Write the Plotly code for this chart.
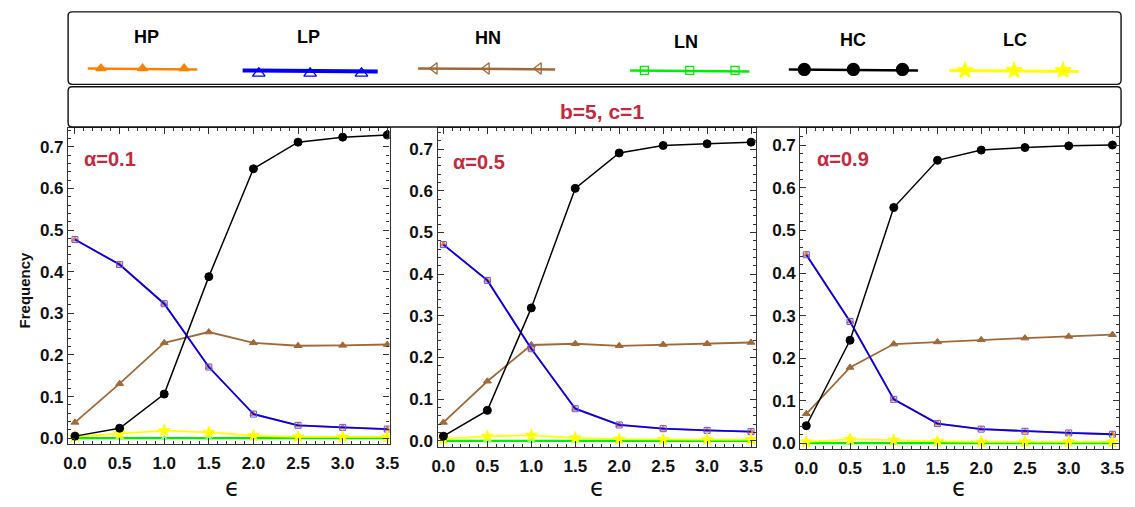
import plotly.graph_objects as go

# ---------------------------------------------------------------- data
EPS = [0.0, 0.5, 1.0, 1.5, 2.0, 2.5, 3.0, 3.5]
SERIES = ["HP", "LP", "HN", "LN", "HC", "LC"]
PANEL_LABELS = ["α=0.1", "α=0.5", "α=0.9"]
SUBTITLE = "b=5, c=1"
X_TICKS = [0.0, 0.5, 1.0, 1.5, 2.0, 2.5, 3.0, 3.5]
Y_TICKS = [0.0, 0.1, 0.2, 0.3, 0.4, 0.5, 0.6, 0.7]

# alpha = 0.1
HP_A1 = [0.477, 0.417, 0.323, 0.171, 0.058, 0.031, 0.026, 0.022]
LP_A1 = [0.477, 0.417, 0.323, 0.171, 0.058, 0.031, 0.026, 0.022]
HN_A1 = [0.038, 0.131, 0.229, 0.255, 0.229, 0.222, 0.223, 0.225]
LN_A1 = [0.0, 0.0, 0.0, 0.0, 0.0, 0.0, 0.0, 0.0]
HC_A1 = [0.005, 0.024, 0.106, 0.388, 0.647, 0.711, 0.723, 0.728]
LC_A1 = [0.004, 0.011, 0.018, 0.014, 0.006, 0.003, 0.003, 0.003]

# alpha = 0.5
HP_A5 = [0.471, 0.385, 0.221, 0.077, 0.038, 0.029, 0.025, 0.022]
LP_A5 = [0.471, 0.385, 0.221, 0.077, 0.038, 0.029, 0.025, 0.022]
HN_A5 = [0.044, 0.143, 0.230, 0.233, 0.228, 0.231, 0.233, 0.236]
LN_A5 = [0.0, 0.0, 0.0, 0.0, 0.0, 0.0, 0.0, 0.0]
HC_A5 = [0.011, 0.073, 0.319, 0.606, 0.691, 0.709, 0.713, 0.717]
LC_A5 = [0.004, 0.011, 0.013, 0.007, 0.004, 0.003, 0.003, 0.003]

# alpha = 0.9
HP_A9 = [0.443, 0.286, 0.103, 0.046, 0.033, 0.028, 0.024, 0.021]
LP_A9 = [0.443, 0.286, 0.103, 0.046, 0.033, 0.028, 0.024, 0.021]
HN_A9 = [0.069, 0.178, 0.233, 0.238, 0.243, 0.247, 0.251, 0.255]
LN_A9 = [0.0, 0.0, 0.0, 0.0, 0.0, 0.0, 0.0, 0.0]
HC_A9 = [0.041, 0.242, 0.554, 0.665, 0.689, 0.695, 0.699, 0.701]
LC_A9 = [0.003, 0.009, 0.007, 0.004, 0.003, 0.003, 0.003, 0.003]

PANEL_DATA = [
    {"HP": HP_A1, "LP": LP_A1, "HN": HN_A1, "LN": LN_A1, "HC": HC_A1, "LC": LC_A1},
    {"HP": HP_A5, "LP": LP_A5, "HN": HN_A5, "LN": LN_A5, "HC": HC_A5, "LC": LC_A5},
    {"HP": HP_A9, "LP": LP_A9, "HN": HN_A9, "LN": LN_A9, "HC": HC_A9, "LC": LC_A9},
]

# ---------------------------------------------------------------- styles
W, H = 1135, 507
FONT = "Liberation Sans"
RED = "#C8283C"
FRAME = "#333333"

COLORS = {"HP": "#FF8000", "LP": "#0000FF", "HN": "#A0693A",
          "LN": "#00EE00", "HC": "#000000", "LC": "#FFFF00"}

# marker styles inside the panels
PANEL_STYLE = {
    "HN": dict(symbol="triangle-up", size=7, color="#A0693A", lw=1.8),
    "HP": dict(symbol="triangle-up", size=6, color="#FF8000", lw=1.8),
    "LP": dict(symbol="square-open", size=6, color="#5555FF", lw=1.8),
    "LN": dict(symbol="triangle-up", size=6, color="#88FF88", lw=2.2),
    "LC": dict(symbol="star", size=9, color="#FFFF00", lw=1.8),
    "HC": dict(symbol="circle", size=8, color="#000000", lw=1.5),
}
DRAW_ORDER = ["HN", "HP", "LP", "LN", "LC", "HC"]

# panel frames (paper fractions) and axis ranges
PANELS = [
    dict(xd=[63 / W, 389 / W], yd=[1 - 448 / H, 1 - 129 / H],
         xr=[-0.077, 3.525], yr=[-0.015, 0.745], lab=(77, 160), eps=230),
    dict(xd=[437.7 / W, 760.7 / W], yd=[1 - 451 / H, 1 - 129 / H],
         xr=[-0.067, 3.556], yr=[-0.016, 0.751], lab=(451, 163), eps=600),
    dict(xd=[805.7 / W, 1129 / W], yd=[1 - 452.7 / H, 1 - 129 / H],
         xr=[-0.068, 3.576], yr=[-0.014, 0.741], lab=(821, 160), eps=967),
]

# key row: label position, sample line span and height, marker look
KEY = {
    "HP": dict(lab=(143, 37), x=(83, 194), y=69, my=69, sym="triangle-up", ms=9, lw=2.5),
    "LP": dict(lab=(307, 37), x=(240, 377), y=71, my=74, sym="triangle-up-open", ms=11, lw=4),
    "HN": dict(lab=(489, 38), x=(418, 557), y=69, my=69, sym="triangle-left-open", ms=10, lw=2.5),
    "LN": dict(lab=(690, 42), x=(633, 754), y=71, my=71, sym="square-open", ms=8, lw=2.5),
    "HC": dict(lab=(859, 40), x=(794, 925), y=70, my=70, sym="circle", ms=12, lw=2.5),
    "LC": dict(lab=(1023, 40), x=(957, 1088), y=71, my=71, sym="star", ms=12, lw=3),
}
KEY_MARK_FRAC = [0.12, 0.5, 0.88]

fig = go.Figure()


def axis_style(tick_vals, fmt, minor_dtick):
    return dict(
        showline=True, mirror="allticks", linecolor=FRAME, linewidth=1.3,
        ticks="inside", ticklen=6, tickwidth=1.2, tickcolor=FRAME,
        showgrid=False, zeroline=False, tickvals=tick_vals, tickformat=fmt,
        tickfont=dict(family=FONT, size=17, color="#111111", weight="bold"),
        minor=dict(ticks="inside", ticklen=3, tickwidth=1, tickcolor=FRAME,
                   dtick=minor_dtick, showgrid=False),
        fixedrange=True,
    )


for i, (panel, data) in enumerate(zip(PANELS, PANEL_DATA)):
    n = "" if i == 0 else str(i + 1)
    for name in DRAW_ORDER:
        st = PANEL_STYLE[name]
        fig.add_trace(go.Scatter(
            x=EPS, y=data[name], mode="lines+markers", name=name,
            line=dict(color=COLORS[name], width=st["lw"]),
            marker=dict(symbol=st["symbol"], size=st["size"], color=st["color"],
                        line=dict(width=1, color=st["color"])),
            xaxis="x" + n, yaxis="y" + n, showlegend=False, cliponaxis=True,
        ))
    xa = axis_style(X_TICKS, ".1f", 0.1)
    xa.update(domain=panel["xd"], range=panel["xr"], anchor="y" + n, ticklabelstandoff=3)
    ya = axis_style(Y_TICKS, ".1f", 0.02)
    ya.update(domain=panel["yd"], range=panel["yr"], anchor="x" + n)
    fig.update_layout(**{"xaxis" + n: xa, "yaxis" + n: ya})

# overlay in page pixels for the key, boxes and labels
fig.update_layout(
    xaxis4=dict(domain=[0, 1], range=[0, W], visible=False, fixedrange=True, anchor="y4"),
    yaxis4=dict(domain=[0, 1], range=[H, 0], visible=False, fixedrange=True, anchor="x4"),
)

for name in SERIES:
    k = KEY[name]
    x0, x1 = k["x"]
    fig.add_trace(go.Scatter(
        x=[x0, x1], y=[k["y"], k["y"] + 1], mode="lines",
        line=dict(color=COLORS[name], width=k["lw"]),
        xaxis="x4", yaxis="y4", showlegend=False, hoverinfo="skip"))
    fig.add_trace(go.Scatter(
        x=[x0 + f * (x1 - x0) for f in KEY_MARK_FRAC], y=[k["my"]] * 3, mode="markers",
        marker=dict(symbol=k["sym"], size=k["ms"], color=COLORS[name],
                    line=dict(width=1.3, color=COLORS[name])),
        xaxis="x4", yaxis="y4", showlegend=False, hoverinfo="skip"))
    fig.add_annotation(x=k["lab"][0], y=k["lab"][1], xref="x4", yref="y4",
                       text=name, showarrow=False,
                       font=dict(family=FONT, size=18, color="#000000", weight="bold"))


def rounded_rect(x0, y0, x1, y1, r=4):
    return (f"M {x0 + r},{y0} L {x1 - r},{y0} Q {x1},{y0} {x1},{y0 + r} "
            f"L {x1},{y1 - r} Q {x1},{y1} {x1 - r},{y1} L {x0 + r},{y1} "
            f"Q {x0},{y1} {x0},{y1 - r} L {x0},{y0 + r} Q {x0},{y0} {x0 + r},{y0} Z")


for box in [(63, 12, 1131, 85), (63, 87.5, 1131, 128)]:
    fig.add_shape(type="path", path=rounded_rect(*box), xref="x4", yref="y4",
                  line=dict(color="#111111", width=1.4), fillcolor="rgba(0,0,0,0)")

fig.add_annotation(x=605, y=112, xref="x4", yref="y4", text=SUBTITLE, showarrow=False,
                   font=dict(family=FONT, size=21, color=RED, weight="bold"))

for panel, lab in zip(PANELS, PANEL_LABELS):
    fig.add_annotation(x=panel["lab"][0], y=panel["lab"][1], xref="x4", yref="y4",
                       text=lab, showarrow=False, xanchor="left",
                       font=dict(family=FONT, size=20, color=RED, weight="bold"))
    fig.add_annotation(x=panel["eps"], y=507, xref="x4", yref="y4", text="ϵ",
                       showarrow=False, yanchor="bottom", borderpad=0,
                       font=dict(family="DejaVu Sans", size=24, color="#111111"))

fig.add_annotation(x=19, y=292, xref="x4", yref="y4", text="Frequency", textangle=-90,
                   showarrow=False,
                   font=dict(family=FONT, size=15, color="#111111", weight="bold"))

fig.update_layout(
    width=W, height=H, autosize=False,
    margin=dict(l=0, r=0, t=0, b=0),
    paper_bgcolor="white", plot_bgcolor="rgba(0,0,0,0)",
    showlegend=False,
)

fig.write_html("out.html")
